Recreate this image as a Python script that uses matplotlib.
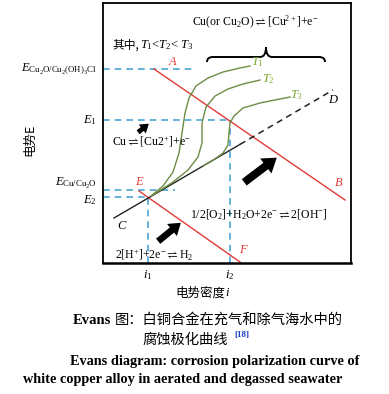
import numpy as np
import matplotlib
matplotlib.use("Agg")
import matplotlib.pyplot as plt
from matplotlib.path import Path
from matplotlib.patches import PathPatch

plt.rcParams['font.family'] = ['Liberation Serif', 'Noto Sans CJK SC']
plt.rcParams['mathtext.fontset'] = 'custom'
plt.rcParams['mathtext.rm'] = 'Liberation Serif'
plt.rcParams['mathtext.it'] = 'Liberation Serif:italic'
plt.rcParams['mathtext.bf'] = 'Liberation Serif:bold'
plt.rcParams['mathtext.fallback'] = 'stix'

# potential levels (arbitrary units) and current densities
E_levels = [194, 143, 73, 66]          # E_Cu2O/Cu2(OH)3Cl, E1, E_Cu/Cu2O, E2
E_ends = [90, 127, 72, 45]             # where the dashed guides stop
i_marks = [45, 127]                    # i1, i2

# cathodic lines (O2 reduction aerated / H2 evolution)
AB_x = [51, 242]
AB_y = [194, 63]
EF_x = [36, 137]
EF_y = [72, 1]
# anodic line C-D
CD_x = [11, 137, 230]
CD_y = [45, 118.6, 173]

# anodic curves at T1, T2, T3
T1_x = [48, 60, 70, 76, 79, 82, 86, 93, 105, 120, 137, 147]
T1_y = [67, 77, 91, 110, 130, 150, 165, 177, 185, 191, 195, 197]
T2_x = [50, 70, 85, 95, 99, 99, 103, 112, 125, 140, 157]
T2_y = [68, 81, 93, 106, 120, 140, 156, 167, 174, 179, 183]
T3_x = [100, 112, 120, 125, 126, 127, 131, 140, 157, 172, 187]
T3_y = [97, 104, 110, 118, 130, 140, 147, 155, 160, 163, 166]

blue = '#4ba6d3'
red = '#e23a36'
green = '#6e8c45'
lgreen = '#77a82a'

fig = plt.figure(figsize=(3.89, 3.94), dpi=100)
ax = fig.add_axes([103/389, 131/394, 248/389, 260/394])
ax.set_xlim(0, 248)
ax.set_ylim(0, 260)
ax.set_xticks([])
ax.set_yticks([])
for s in ax.spines.values():
    s.set_linewidth(1.3)
ax.spines['bottom'].set_linewidth(1.8)

# dashed guide lines
for e, xe in zip(E_levels, E_ends):
    ax.plot([0, xe], [e, e], ls=(0, (4, 3)), color=blue, lw=1.2)
ax.plot([i_marks[0]] * 2, [0, E_levels[3]], ls=(0, (4, 3)), color=blue, lw=1.2)
ax.plot([i_marks[1]] * 2, [0, E_levels[1]], ls=(0, (4, 3)), color=blue, lw=1.2)

ax.plot(AB_x, AB_y, color=red, lw=1)
ax.plot(EF_x, EF_y, color=red, lw=1)
ax.plot(CD_x[:2], CD_y[:2], color='#222222', lw=1)
ax.plot(CD_x[1:], CD_y[1:], color='#222222', lw=1.1, ls=(0, (4, 3)))

for tx, ty in [(T1_x, T1_y), (T2_x, T2_y), (T3_x, T3_y)]:
    ax.plot(tx, ty, color=green, lw=1)

# point labels
ax.text(70, 201, '$A$', color=red, fontsize=9, ha='center', va='center')
ax.text(236, 80, '$B$', color=red, fontsize=9, ha='center', va='center')
ax.text(37, 81, '$E$', color=red, fontsize=9, ha='center', va='center')
ax.text(141, 13, '$F$', color=red, fontsize=9, ha='center', va='center')
ax.text(19, 37, '$C$', color='black', fontsize=9, ha='center', va='center')
ax.text(230, 163, '$D$', color='black', fontsize=9, ha='center', va='center')
ax.text(154, 201, '$T_1$', color=lgreen, fontsize=9, ha='center', va='center')
ax.text(165, 184, '$T_2$', color=lgreen, fontsize=9, ha='center', va='center')
ax.text(193, 168, '$T_3$', color=lgreen, fontsize=9, ha='center', va='center')

# reactions
ax.text(9, 218, '其中,', fontsize=8.5, family='Noto Sans CJK SC', va='center')
ax.text(37, 218, '$T_1$<$T_2$< $T_3$', fontsize=9, va='center')
ax.text(152, 241, r'Cu(or Cu$_2$O)$\rightleftharpoons$[Cu$^{2+}$]+e$^{-}$',
        fontsize=8.5, ha='center', va='center')
ax.text(9, 121, r'Cu$\rightleftharpoons$[Cu2$^{+}$]+e$^{-}$', fontsize=8.5, va='center')
ax.text(87, 48, r'1/2[O$_2$]+H$_2$O+2e$^{-}$$\rightleftharpoons$2[OH$^{-}$]',
        fontsize=8.5, va='center')
ax.text(12, 8, r'2[H$^{+}$]+2e$^{-}$$\rightleftharpoons$H$_2$', fontsize=8.5, va='center')

# brace
verts = [(104, 201), (104, 206), (110, 206), (157, 206), (163, 206), (163, 216),
         (163, 206), (169, 206), (216, 206), (222, 206), (222, 201)]
codes = [Path.MOVETO, Path.CURVE3, Path.CURVE3, Path.LINETO, Path.CURVE3, Path.CURVE3,
         Path.CURVE3, Path.CURVE3, Path.LINETO, Path.CURVE3, Path.CURVE3]
ax.add_patch(PathPatch(Path(verts, codes), fill=False, lw=1.4, color='black'))

# arrows
astyle = dict(arrowstyle='simple,head_length=0.55,head_width=0.75,tail_width=0.32',
              color='black', lw=0)
ax.annotate('', xy=(176, 107), xytext=(139, 79), arrowprops=dict(mutation_scale=18, **astyle))
ax.annotate('', xy=(80, 42), xytext=(53, 20), arrowprops=dict(mutation_scale=15, **astyle))
ax.annotate('', xy=(48, 141), xytext=(33, 129), arrowprops=dict(mutation_scale=11, **astyle))

# axis level labels
tr = ax.get_yaxis_transform()
ax.text(-0.025, 194, r'$E_{\mathrm{Cu_2O/Cu_2(OH)_3Cl}}$', transform=tr, ha='right', va='center', fontsize=9)
ax.text(-0.025, 143, '$E_1$', transform=tr, ha='right', va='center', fontsize=9)
ax.text(-0.025, 80, r'$E_{\mathrm{Cu/Cu_2O}}$', transform=tr, ha='right', va='center', fontsize=9)
ax.text(-0.025, 63, '$E_2$', transform=tr, ha='right', va='center', fontsize=9)
ax.text(i_marks[0], -12, '$i_1$', ha='center', va='center', fontsize=9, clip_on=False)
ax.text(i_marks[1], -12, '$i_2$', ha='center', va='center', fontsize=9, clip_on=False)
ax.text(122, -30, '电势密度', ha='right', va='center', fontsize=9, family='Noto Sans CJK SC', clip_on=False)
ax.text(122, -30, '$i$', ha='left', va='center', fontsize=9, clip_on=False)

fig.text(30/389, 1 - 140/394, '电势E', rotation=90, ha='center', va='center',
         fontsize=9, family=['Noto Sans CJK SC'])

# caption
fig.text(73/389, 1 - 320/394, 'Evans', ha='left', va='center', fontsize=10.5, fontweight='bold')
fig.text(115/389, 1 - 320/394, '图：白铜合金在充气和除气海水中的', ha='left', va='center',
         fontsize=10.3, family='Noto Sans CJK SC', fontweight='medium')
fig.text(185/389, 1 - 340/394, '腐蚀极化曲线', ha='center', va='center', fontsize=10.3,
         family='Noto Sans CJK SC', fontweight='medium')
fig.text(234/389, 1 - 335/394, '[18]', ha='left', va='center', fontsize=6.5, fontweight='bold',
         color='#1a3cc8')
fig.text(215/389, 1 - 362/394, 'Evans diagram: corrosion polarization curve of', ha='center', va='center',
         fontsize=10.3, fontweight='bold')
fig.text(23/389, 1 - 379/394, 'white copper alloy in aerated and degassed seawater', ha='left', va='center',
         fontsize=10.3, fontweight='bold')

fig.savefig('out.png', dpi=100)
